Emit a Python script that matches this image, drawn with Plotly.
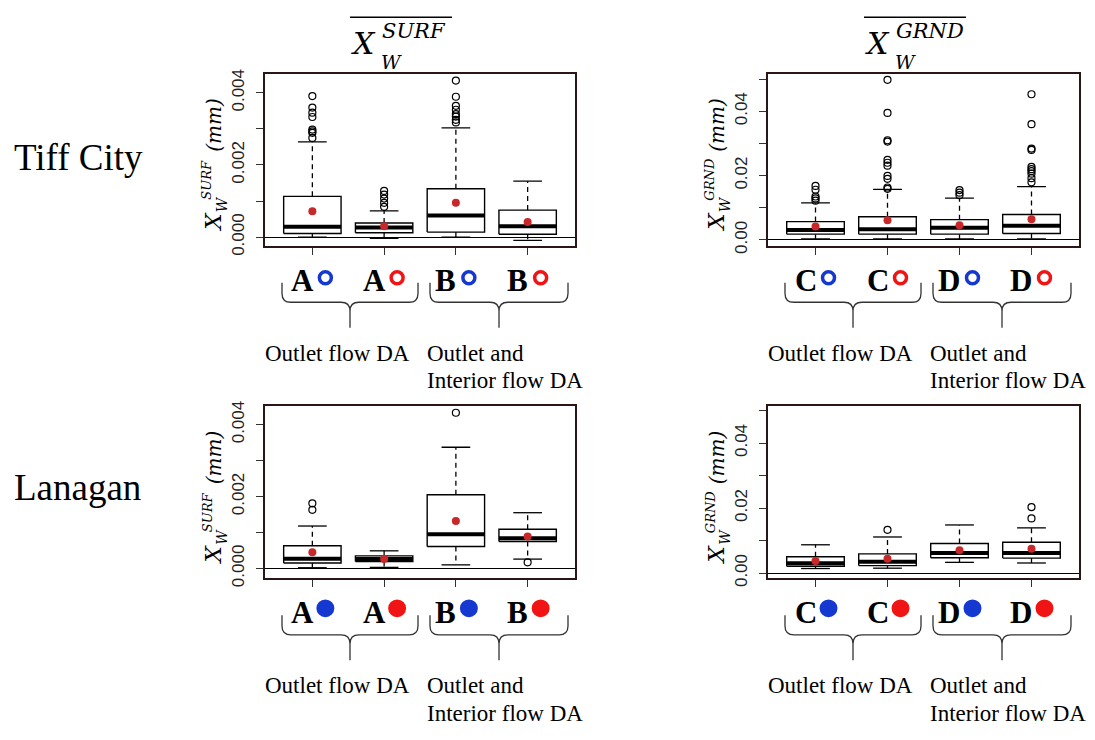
import plotly.graph_objects as go

W, H = 1095, 740

# ---------------- data ----------------
box_pos = [1, 2, 3, 4]

# Tiff City, surface (mm)
tc_surf_q1 = [0.00010, 0.00012, 0.00014, 0.00008]
tc_surf_med = [0.00029, 0.00027, 0.00060, 0.00030]
tc_surf_q3 = [0.00113, 0.00039, 0.00134, 0.00075]
tc_surf_lo = [0.00000, -0.00003, 0.00000, -0.00009]
tc_surf_hi = [0.00264, 0.00073, 0.00303, 0.00155]
tc_surf_mean = [0.00072, 0.00030, 0.00095, 0.00042]
tc_surf_out = [[0.00391, 0.00359, 0.00345, 0.00333, 0.00298, 0.00293, 0.00289, 0.00275],
               [0.00128, 0.00118, 0.00107, 0.00095, 0.00084],
               [0.00434, 0.00389, 0.00364, 0.00353, 0.00341, 0.00334, 0.00325, 0.00318],
               []]

# Tiff City, ground (mm)
tc_grnd_q1 = [0.0018, 0.0018, 0.0018, 0.0020]
tc_grnd_med = [0.0031, 0.0033, 0.0038, 0.0044]
tc_grnd_q3 = [0.0057, 0.0072, 0.0063, 0.0079]
tc_grnd_lo = [0.0003, 0.0003, 0.0003, 0.0003]
tc_grnd_hi = [0.0115, 0.0157, 0.0130, 0.0166]
tc_grnd_mean = [0.0042, 0.0061, 0.0046, 0.0064]
tc_grnd_out = [[0.0168, 0.0156, 0.0135, 0.0129, 0.0122],
               [0.0498, 0.0395, 0.0310, 0.0306, 0.0249, 0.0240, 0.0231, 0.0199, 0.0190, 0.0163, 0.0159],
               [0.0155, 0.0147, 0.0139],
               [0.0453, 0.0360, 0.0284, 0.0280, 0.0227, 0.0220, 0.0214, 0.0206, 0.0192, 0.0179]]

# Lanagan, surface (mm)
la_surf_q1 = [0.00015, 0.00019, 0.00061, 0.00075]
la_surf_med = [0.00027, 0.00026, 0.00095, 0.00084]
la_surf_q3 = [0.00063, 0.00035, 0.00205, 0.00109]
la_surf_lo = [0.00002, 0.00003, 0.00010, 0.00026]
la_surf_hi = [0.00118, 0.00049, 0.00337, 0.00155]
la_surf_mean = [0.00045, 0.00026, 0.00132, 0.00089]
la_surf_out = [[0.00181, 0.00163], [], [0.00433], [0.00017]]

# Lanagan, ground (mm)
la_grnd_q1 = [0.0021, 0.0023, 0.0047, 0.0046]
la_grnd_med = [0.0030, 0.0035, 0.0062, 0.0062]
la_grnd_q3 = [0.0050, 0.0059, 0.0091, 0.0095]
la_grnd_lo = [0.0014, 0.0015, 0.0033, 0.0031]
la_grnd_hi = [0.0087, 0.0111, 0.0148, 0.0139]
la_grnd_mean = [0.0037, 0.0044, 0.0070, 0.0075]
la_grnd_out = [[], [0.0133], [], [0.0203, 0.0168]]

surf_ticks = [0.000, 0.001, 0.002, 0.003, 0.004]
surf_ticktext = ["0.000", "", "0.002", "", "0.004"]
grnd_ticks = [0.00, 0.01, 0.02, 0.03, 0.04, 0.05]
grnd_ticktext = ["0.00", "", "0.02", "", "0.04", ""]

group_letters_surf = ["A", "A", "B", "B"]
group_letters_grnd = ["C", "C", "D", "D"]
dot_colors = ["#1538d0", "#f01414", "#1538d0", "#f01414"]
row_names = ["Tiff City", "Lanagan"]
group_text_1 = "Outlet flow DA"
group_text_2a = "Outlet and"
group_text_2b = "Interior flow DA"

# ---------------- layout geometry (pixels) ----------------
XR = [0.34, 4.66]
panels = [
    dict(ax="", L=265, R=575, T=70, B=246, yr=[-0.000255, 0.00453],
         d=(tc_surf_q1, tc_surf_med, tc_surf_q3, tc_surf_lo, tc_surf_hi, tc_surf_mean, tc_surf_out),
         tv=surf_ticks, tt=surf_ticktext, kind="SURF", letters=group_letters_surf, filled=False),
    dict(ax="2", L=768, R=1079, T=70, B=246, yr=[-0.0020, 0.0517],
         d=(tc_grnd_q1, tc_grnd_med, tc_grnd_q3, tc_grnd_lo, tc_grnd_hi, tc_grnd_mean, tc_grnd_out),
         tv=grnd_ticks, tt=grnd_ticktext, kind="GRND", letters=group_letters_grnd, filled=False),
    dict(ax="3", L=265, R=575, T=409, B=584, yr=[-0.000264, 0.00451],
         d=(la_surf_q1, la_surf_med, la_surf_q3, la_surf_lo, la_surf_hi, la_surf_mean, la_surf_out),
         tv=surf_ticks, tt=surf_ticktext, kind="SURF", letters=group_letters_surf, filled=True),
    dict(ax="4", L=768, R=1079, T=409, B=584, yr=[-0.0015, 0.0513],
         d=(la_grnd_q1, la_grnd_med, la_grnd_q3, la_grnd_lo, la_grnd_hi, la_grnd_mean, la_grnd_out),
         tv=grnd_ticks, tt=grnd_ticktext, kind="GRND", letters=group_letters_grnd, filled=True),
]


def fx(x):
    return x / W


def fy(y):
    return 1 - y / H


fig = go.Figure()
BW = 0.4      # half box width
CAP = 0.2     # half cap width
FRAME = "#2a1616"
annotations = []
shapes = []


def brace(x0, x1, ytop, yh, ytip, r=9):
    xm = (x0 + x1) / 2
    pts = [
        ("M", [(x0, ytop)]), ("L", [(x0, yh - r)]), ("Q", [(x0, yh), (x0 + r, yh)]),
        ("L", [(xm - r, yh)]), ("Q", [(xm, yh), (xm, yh + r)]), ("L", [(xm, ytip)]),
        ("M", [(xm, yh + r)]), ("Q", [(xm, yh), (xm + r, yh)]),
        ("L", [(x1 - r, yh)]), ("Q", [(x1, yh), (x1, yh - r)]), ("L", [(x1, ytop)]),
    ]
    s = ""
    for cmd, pp in pts:
        s += cmd + " " + " ".join(f"{fx(a):.5f},{fy(b):.5f}" for a, b in pp) + " "
    return dict(type="path", xref="paper", yref="paper", path=s.strip(),
                line=dict(color="#333", width=1.3))


for p in panels:
    xa = "x" + p["ax"]
    ya = "y" + p["ax"]
    q1, med, q3, lo, hi, mean, out = p["d"]
    bx, by, mx, my, wx, wy, cx, cy, ox, oy = [], [], [], [], [], [], [], [], [], []
    for i, xp in enumerate(box_pos):
        bx += [xp - BW, xp + BW, xp + BW, xp - BW, xp - BW, None]
        by += [q1[i], q1[i], q3[i], q3[i], q1[i], None]
        mx += [xp - BW, xp + BW, None]
        my += [med[i], med[i], None]
        wx += [xp, xp, None, xp, xp, None]
        wy += [q3[i], hi[i], None, q1[i], lo[i], None]
        cx += [xp - CAP, xp + CAP, None, xp - CAP, xp + CAP, None]
        cy += [hi[i], hi[i], None, lo[i], lo[i], None]
        for v in out[i]:
            ox.append(xp)
            oy.append(v)
    common = dict(xaxis=xa, yaxis=ya, showlegend=False, hoverinfo="skip")
    fig.add_trace(go.Scatter(x=wx, y=wy, mode="lines",
                             line=dict(color="black", width=1.3, dash="5px,4px"), **common))
    fig.add_trace(go.Scatter(x=cx, y=cy, mode="lines",
                             line=dict(color="black", width=1.3), **common))
    fig.add_trace(go.Scatter(x=bx, y=by, mode="lines", fill="toself", fillcolor="white",
                             line=dict(color="black", width=1.4), **common))
    fig.add_trace(go.Scatter(x=mx, y=my, mode="lines",
                             line=dict(color="black", width=4), **common))
    fig.add_trace(go.Scatter(x=ox, y=oy, mode="markers",
                             marker=dict(symbol="circle-open", size=7, color="black",
                                         line=dict(width=1.2)), **common))
    fig.add_trace(go.Scatter(x=box_pos, y=mean, mode="markers",
                             marker=dict(symbol="circle", size=8, color="#c8282a"), **common))

    xkey = "xaxis" + p["ax"]
    ykey = "yaxis" + p["ax"]
    fig.layout[xkey] = dict(
        domain=[fx(p["L"]), fx(p["R"])], range=XR, anchor=ya,
        showline=True, mirror=True, linecolor=FRAME, linewidth=1.6,
        ticks="outside", ticklen=7, tickwidth=1, tickcolor="#333",
        tickvals=box_pos, showticklabels=False, showgrid=False, zeroline=False,
    )
    fig.layout[ykey] = dict(
        domain=[fy(p["B"]), fy(p["T"])], range=p["yr"], anchor=xa,
        showline=True, mirror=True, linecolor=FRAME, linewidth=1.6,
        ticks="outside", ticklen=7, tickwidth=1, tickcolor="#333",
        tickvals=p["tv"], ticktext=p["tt"], tickangle=-90,
        tickfont=dict(family="Liberation Sans", size=17, color="#222"),
        ticklabelstandoff=5,
        showgrid=False, zeroline=True, zerolinecolor="black", zerolinewidth=1.3,
    )

    # y-axis title pieces (rotated)
    L = p["L"]
    tf = "DejaVu Serif"
    pieces = [
        dict(text="<i>X</i>", x=fx(L - 52), y=fy(p["T"] + 151), font=dict(family=tf, size=23)),
        dict(text="<i>W</i>", x=fx(L - 43), y=fy(p["T"] + 133), font=dict(family=tf, size=14)),
        dict(text="<i>" + p["kind"] + "</i>", x=fx(L - 58), y=fy(p["T"] + 108), font=dict(family=tf, size=13)),
        dict(text="<i>(mm)</i>", x=fx(L - 51), y=fy(p["T"] + 52), font=dict(family=tf, size=20)),
    ]
    for a in pieces:
        a["textangle"] = -90
    annotations += pieces

    # group labels under the boxes
    scale = (p["R"] - p["L"]) / (XR[1] - XR[0])
    ly = p["T"] + 211 if not p["filled"] else p["T"] + 210
    for i, xp in enumerate(box_pos):
        tick_px = p["L"] + (xp - XR[0]) * scale
        annotations.append(dict(text="<b>" + p["letters"][i] + "</b>", x=fx(tick_px - 10), y=fy(ly),
                                font=dict(family="Liberation Serif", size=31, color="black")))
        ccx = tick_px + 13
        if p["filled"]:
            ccy = p["T"] + 206
            r = 9
            shapes.append(dict(type="circle", xref="paper", yref="paper",
                               x0=fx(ccx - r), x1=fx(ccx + r), y0=fy(ccy + r), y1=fy(ccy - r),
                               fillcolor=dot_colors[i], line=dict(width=0)))
        else:
            ccy = p["T"] + 208
            r = 6
            shapes.append(dict(type="circle", xref="paper", yref="paper",
                               x0=fx(ccx - r), x1=fx(ccx + r), y0=fy(ccy + r), y1=fy(ccy - r),
                               fillcolor="rgba(0,0,0,0)", line=dict(color=dot_colors[i], width=3.5)))

    off = p["L"] - 265
    t0 = p["T"]
    shapes.append(brace(282 + off, 418 + off, t0 + 213, t0 + 233, t0 + 259))
    shapes.append(brace(430 + off, 568 + off, t0 + 213, t0 + 233, t0 + 259))

    gfont = dict(family="Liberation Serif", size=23, color="black")
    annotations.append(dict(text=group_text_1, x=fx(263 + off), xanchor="left", y=fy(t0 + 285), font=gfont))
    annotations.append(dict(text=group_text_2a, x=fx(425 + off), xanchor="left", y=fy(t0 + 285), font=gfont))
    annotations.append(dict(text=group_text_2b, x=fx(425 + off), xanchor="left", y=fy(t0 + 313), font=gfont))

# row names
annotations.append(dict(text=row_names[0], x=fx(12), xanchor="left", y=fy(155),
                        font=dict(family="Liberation Serif", size=37, color="black")))
annotations.append(dict(text=row_names[1], x=fx(12), xanchor="left", y=fy(492),
                        font=dict(family="Liberation Serif", size=37, color="black")))

# column headers
hf = "DejaVu Serif"
for (x_left, kind) in [(350, "SURF"), (864, "GRND")]:
    annotations += [
        dict(text="<i>X</i>", x=fx(x_left + 13), y=fy(39), font=dict(family=hf, size=30)),
        dict(text="<i>W</i>", x=fx(x_left + 41), y=fy(58), font=dict(family=hf, size=19)),
        dict(text="<i>" + kind + "</i>", x=fx(x_left + 30), xanchor="left", y=fy(26), font=dict(family=hf, size=21)),
    ]
    shapes.append(dict(type="line", xref="paper", yref="paper", x0=fx(x_left), x1=fx(x_left + 102),
                       y0=fy(12.5), y1=fy(12.5), line=dict(color="black", width=1.6)))

for a in annotations:
    a.setdefault("showarrow", False)
    a.setdefault("xref", "paper")
    a.setdefault("yref", "paper")
    a.setdefault("xanchor", "center")
    a.setdefault("yanchor", "middle")
    f = a.setdefault("font", {})
    f.setdefault("color", "black")

fig.update_layout(
    width=W, height=H, margin=dict(l=0, r=0, t=0, b=0),
    paper_bgcolor="white", plot_bgcolor="white",
    annotations=annotations, shapes=shapes, showlegend=False,
)

fig.write_html("out.html")
